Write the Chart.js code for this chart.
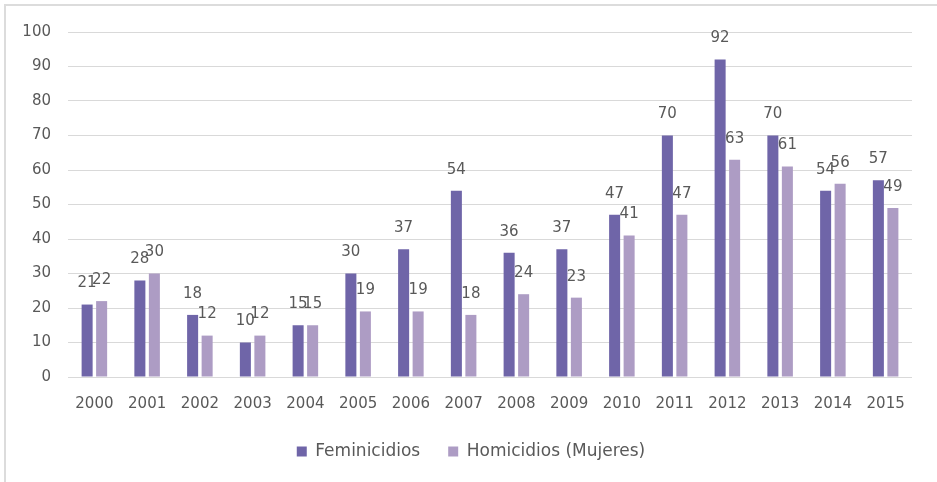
<!DOCTYPE html>
<html>
<head>
<meta charset="utf-8">
<script src="https://cdn.jsdelivr.net/npm/chart.js@4/dist/chart.umd.min.js"></script>
<style>
  html, body { margin: 0; padding: 0; background: #fff; }
  #wrap { position: relative; width: 937px; height: 482px; }
  #frame { position: absolute; left: 4px; top: 4px; right: 0; bottom: 0;
           border-left: 2px solid #dcdcdc; border-top: 2px solid #dcdcdc; pointer-events: none; }
  canvas { position: absolute; left: 0; top: 0; }
</style>
</head>
<body>
<div id="wrap">
  <canvas id="c" width="937" height="482"></canvas>
  <div id="frame"></div>
</div>
<script>
const years = ['2000','2001','2002','2003','2004','2005','2006','2007','2008','2009','2010','2011','2012','2013','2014','2015'];
const feminicidios = [21, 28, 18, 10, 15, 30, 37, 54, 36, 37, 47, 70, 92, 70, 54, 57];
const homicidiosMujeres = [22, 30, 12, 12, 15, 19, 19, 18, 24, 23, 41, 47, 63, 61, 56, 49];
const seriesNames = ['Feminicidios', 'Homicidios (Mujeres)'];

const FONT = "'DejaVu Sans', sans-serif";
const TEXT = '#595959';

const valueLabels = {
  id: 'valueLabels',
  afterDatasetsDraw(chart) {
    const ctx = chart.ctx;
    ctx.save();
    ctx.font = '15px ' + FONT;
    ctx.fillStyle = TEXT;
    ctx.textAlign = 'center';
    ctx.textBaseline = 'middle';
    chart.data.datasets.forEach((ds, i) => {
      const meta = chart.getDatasetMeta(i);
      meta.data.forEach((el, j) => {
        ctx.fillText(String(ds.data[j]), el.x, el.y - 21);
      });
    });
    ctx.restore();
  }
};

// nudge the legend a little to the right, as in the reference
const legendNudge = {
  id: 'legendNudge',
  afterLayout(chart) {
    if (chart.legend) { chart.legend.left += 10; chart.legend.right += 10; }
  }
};

new Chart(document.getElementById('c'), {
  type: 'bar',
  data: {
    labels: years,
    datasets: [
      { label: seriesNames[0], data: feminicidios, backgroundColor: '#6F65A8',
        categoryPercentage: 0.55, barPercentage: 0.76 },
      { label: seriesNames[1], data: homicidiosMujeres, backgroundColor: '#AD9CC4',
        categoryPercentage: 0.55, barPercentage: 0.76 }
    ]
  },
  options: {
    responsive: false,
    animation: false,
    layout: { padding: { left: 10, right: 25, top: 32, bottom: 12 } },
    plugins: {
      legend: {
        position: 'bottom',
        labels: {
          font: { family: FONT, size: 17 },
          color: TEXT,
          boxWidth: 10,
          boxHeight: 10,
          padding: 28
        }
      },
      tooltip: { enabled: false }
    },
    scales: {
      x: {
        grid: { display: false, drawTicks: false },
        border: { display: false },
        ticks: { font: { family: FONT, size: 15 }, color: TEXT, padding: 18, maxRotation: 0, autoSkip: false },
        afterFit(s) { s.height = 38; }
      },
      y: {
        min: 0, max: 100,
        grid: { color: '#d9d9d9', lineWidth: 1, drawTicks: false },
        border: { display: false },
        ticks: { stepSize: 10, font: { family: FONT, size: 15 }, color: TEXT, padding: 17 },
        afterFit(s) { s.width = 58; }
      }
    }
  },
  plugins: [valueLabels, legendNudge]
});
</script>
</body>
</html>
